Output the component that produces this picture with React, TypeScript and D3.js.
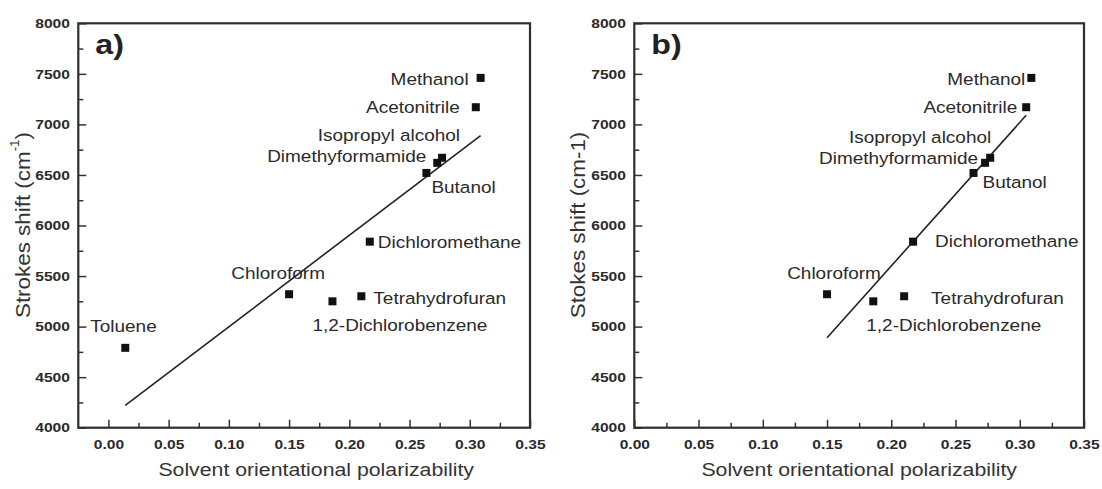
import { useEffect, useRef } from 'react';
import * as d3 from 'd3';

// values
const solvents = [
  'Toluene',
  'Chloroform',
  '1,2-Dichlorobenzene',
  'Tetrahydrofuran',
  'Dichloromethane',
  'Butanol',
  'Dimethyformamide',
  'Isopropyl alcohol',
  'Acetonitrile',
  'Methanol',
];
const polarizability = [0.014, 0.15, 0.186, 0.21, 0.217, 0.264, 0.273, 0.277, 0.305, 0.309];
const stokesShift = [4790, 5320, 5250, 5300, 5840, 6520, 6620, 6670, 7170, 7460];

// linear fits drawn in each panel (end points)
const fitAX = [0.014, 0.309];
const fitAY = [4220, 6890];
const fitBX = [0.15, 0.305];
const fitBY = [4890, 7090];

const xTickValues = [0, 0.05, 0.1, 0.15, 0.2, 0.25, 0.3, 0.35];
const xMinorValues = [0.025, 0.075, 0.125, 0.175, 0.225, 0.275, 0.325];
const yTickValues = [4000, 4500, 5000, 5500, 6000, 6500, 7000, 7500, 8000];
const yMinorValues = [4250, 4750, 5250, 5750, 6250, 6750, 7250, 7750];

// label placement (pixels relative to point): dx, dy, anchor
const labelsA: Record<string, [number, number, string]> = {
  Toluene: [-35, -21, 'start'],
  Chloroform: [-11, -21, 'middle'],
  '1,2-Dichlorobenzene': [-20, 24, 'start'],
  Tetrahydrofuran: [12, 2, 'start'],
  Dichloromethane: [8, 1, 'start'],
  Butanol: [5, 15, 'start'],
  Dimethyformamide: [-11, -6, 'end'],
  'Isopropyl alcohol': [18, -22, 'end'],
  Acetonitrile: [-16, 0, 'end'],
  Methanol: [-12, 2, 'end'],
};
const labelsB: Record<string, [number, number, string]> = {
  Chloroform: [7, -21, 'middle'],
  '1,2-Dichlorobenzene': [-7, 24, 'start'],
  Tetrahydrofuran: [27, 2, 'start'],
  Dichloromethane: [22, 0, 'start'],
  Butanol: [9, 10, 'start'],
  Dimethyformamide: [-7, -4, 'end'],
  'Isopropyl alcohol': [1, -20, 'end'],
  Acetonitrile: [-9, 0, 'end'],
  Methanol: [-6, 2, 'end'],
};

const FONT = '"Liberation Sans", Arial, sans-serif';
const INK = '#222';

type PanelOpts = {
  left: number;
  right: number;
  top: number;
  bottom: number;
  xDomain: [number, number];
  tag: string;
  fitX: number[];
  fitY: number[];
  labels: Record<string, [number, number, string]>;
  yTitleX: number;
  superscript: boolean;
  names: string[];
};

function drawPanel(svg: d3.Selection<SVGSVGElement, unknown, null, undefined>, o: PanelOpts) {
  const x = d3.scaleLinear().domain(o.xDomain).range([o.left, o.right]);
  const y = d3.scaleLinear().domain([4000, 8000]).range([o.bottom, o.top]);
  const g = svg.append('g');

  const fmtY = d3.format('d');
  const fmtX = d3.format('.2f');

  // minor ticks
  g.append('g')
    .attr('transform', `translate(0,${o.bottom})`)
    .call(d3.axisBottom(x).tickValues(xMinorValues).tickSizeInner(-5).tickSizeOuter(0).tickFormat(() => ''))
    .call(s => s.select('.domain').remove());
  g.append('g')
    .attr('transform', `translate(${o.left},0)`)
    .call(d3.axisLeft(y).tickValues(yMinorValues).tickSizeInner(-5).tickSizeOuter(0).tickFormat(() => ''))
    .call(s => s.select('.domain').remove());

  // major ticks + labels
  const xa = g
    .append('g')
    .attr('transform', `translate(0,${o.bottom})`)
    .call(d3.axisBottom(x).tickValues(xTickValues).tickSizeInner(-8).tickSizeOuter(0).tickPadding(12).tickFormat(d => fmtX(d as number)));
  xa.select('.domain').remove();
  xa.selectAll('text')
    .attr('transform', 'scale(1.2,1)')
    .attr('font-size', 13)
    .attr('font-weight', 'bold')
    .attr('font-family', FONT)
    .attr('fill', '#2a2a2a');

  const ya = g
    .append('g')
    .attr('transform', `translate(${o.left},0)`)
    .call(d3.axisLeft(y).tickValues(yTickValues).tickSizeInner(-8).tickSizeOuter(0).tickPadding(7).tickFormat(d => fmtY(d as number)));
  ya.select('.domain').remove();
  ya.selectAll('text')
    .attr('transform', 'scale(1.2,1)')
    .attr('font-size', 13)
    .attr('font-weight', 'bold')
    .attr('font-family', FONT)
    .attr('fill', '#2a2a2a');
  g.selectAll('.tick line').attr('stroke', '#333').attr('stroke-width', 1.5);

  // frame
  g.append('rect')
    .attr('x', o.left)
    .attr('y', o.top)
    .attr('width', o.right - o.left)
    .attr('height', o.bottom - o.top)
    .attr('fill', 'none')
    .attr('stroke', '#2e2e2e')
    .attr('stroke-width', 2.2);

  // fit line
  const line = d3
    .line<number>()
    .x(i => x(o.fitX[i]))
    .y(i => y(o.fitY[i]));
  g.append('path')
    .attr('d', line(o.fitX.map((_, i) => i)))
    .attr('fill', 'none')
    .attr('stroke', INK)
    .attr('stroke-width', 1.6);

  // points
  const idx = solvents.map((_, i) => i).filter(i => o.names.includes(solvents[i]));
  g.selectAll('rect.pt')
    .data(idx)
    .enter()
    .append('rect')
    .attr('class', 'pt')
    .attr('x', i => x(polarizability[i]) - 4)
    .attr('y', i => y(stokesShift[i]) - 4)
    .attr('width', 8)
    .attr('height', 8)
    .attr('fill', '#111');

  // point labels
  g.selectAll('text.lbl')
    .data(idx)
    .enter()
    .append('text')
    .attr('class', 'lbl')
    .attr('transform', i => {
      const [dx, dy] = o.labels[solvents[i]];
      return `translate(${x(polarizability[i]) + dx},${y(stokesShift[i]) + dy}) scale(1.15,1)`;
    })
    .attr('text-anchor', i => o.labels[solvents[i]][2])
    .attr('dominant-baseline', 'central')
    .attr('font-size', 16.5)
    .attr('font-family', FONT)
    .attr('fill', '#2a2a2a')
    .text(i => solvents[i]);

  // panel tag
  g.append('text')
    .attr('transform', `translate(${o.left + 17},${o.top + 31}) scale(1.15,1)`)
    .attr('font-size', 28)
    .attr('font-weight', 'bold')
    .attr('font-family', FONT)
    .attr('fill', '#222')
    .text(o.tag);

  // x title
  g.append('text')
    .attr('transform', `translate(${(o.left + o.right) / 2 + (o.xDomain[0] < 0 ? 12 : 0)},${476}) scale(1.15,1)`)
    .attr('text-anchor', 'middle')
    .attr('font-size', 18.5)
    .attr('font-family', FONT)
    .attr('fill', '#333')
    .text('Solvent orientational polarizability');

  // y title
  const yt = g
    .append('text')
    .attr('transform', `translate(${o.yTitleX},225) rotate(-90) scale(1.12,1)`)
    .attr('text-anchor', 'middle')
    .attr('dominant-baseline', 'central')
    .attr('font-size', 20)
    .attr('font-family', FONT)
    .attr('fill', '#333');
  if (o.superscript) {
    yt.append('tspan').text('Strokes shift (cm');
    yt.append('tspan').attr('font-size', 12).attr('dy', -8).text('-1');
    yt.append('tspan').attr('dy', 8).text(')');
  } else {
    yt.text('Stokes shift (cm-1)');
  }
}

const App = () => {
  const ref = useRef<SVGSVGElement>(null!);

  useEffect(() => {
    const svg = d3.select(ref.current);
    svg.selectAll('*').remove();
    drawPanel(svg, {
      left: 78.3,
      right: 530,
      top: 23.3,
      bottom: 427.7,
      xDomain: [-0.025, 0.35],
      tag: 'a)',
      fitX: fitAX,
      fitY: fitAY,
      labels: labelsA,
      yTitleX: 22,
      superscript: true,
      names: solvents,
    });
    drawPanel(svg, {
      left: 634.3,
      right: 1084,
      top: 23.3,
      bottom: 427.7,
      xDomain: [0, 0.35],
      tag: 'b)',
      fitX: fitBX,
      fitY: fitBY,
      labels: labelsB,
      yTitleX: 578,
      superscript: false,
      names: solvents.filter(s => s !== 'Toluene'),
    });
    return () => {
      svg.selectAll('*').remove();
    };
  }, []);

  return (
    <svg
      ref={ref}
      width={1102}
      height={489}
      style={{ position: 'absolute', left: 0, top: 0, background: '#fff' }}
    />
  );
};

export default App;
